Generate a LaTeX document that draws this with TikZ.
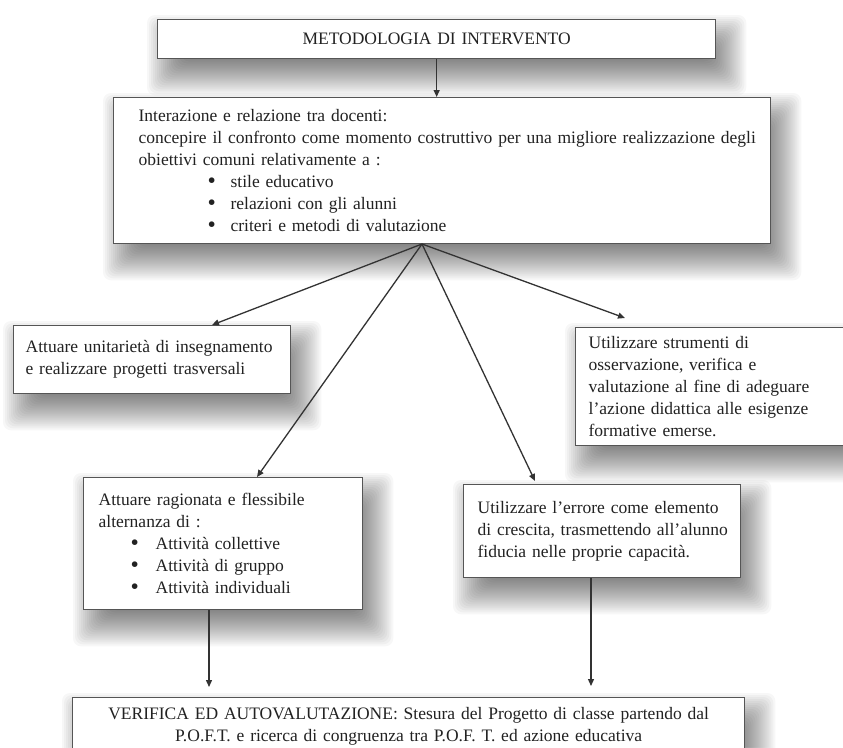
\documentclass[tikz,border=0pt]{standalone}
\usepackage{fontspec}
\setmainfont{Liberation Serif}
\usetikzlibrary{arrows.meta}
\pgfdeclarelayer{shadowlayer}
\pgfsetlayers{shadowlayer,main}
\definecolor{boxline}{HTML}{555555}
\definecolor{txt}{HTML}{222222}
\definecolor{arrowc}{HTML}{333333}
\newcommand\rowtxt[1]{\mbox{#1}}
\newcommand\bulrow[3]{\mbox{\hspace*{#1}\makebox[#2][l]{\smash{\raisebox{-1.2pt}{\scalebox{1.35}{\textbullet}}}}#3}}
\newcommand\softshadow[1]{%
  \begin{pgfonlayer}{shadowlayer}
    \foreach \e in {-16,-14,...,20}{%
      \fill[black,opacity=0.03,rounded corners=8pt]
        ([shift={(10-\e,16-\e)}]#1.north west) rectangle ([shift={(10+\e,16+\e)}]#1.south east);
    }
  \end{pgfonlayer}}
\begin{document}
\begin{tikzpicture}[x=1pt,y=-1pt,
  box/.style={draw=boxline,line width=1.3pt,fill=white,rectangle,anchor=north west,
    align=left,inner ysep=0pt,text=txt,font=\fontsize{17.5}{22}\selectfont},
  conn/.style={draw=arrowc,line width=1.3pt,-{Triangle[length=7pt,width=6pt]}}]
\begin{pgfonlayer}{shadowlayer}
  \fill[white] (0,0) rectangle (843,747);
\end{pgfonlayer}
\useasboundingbox (0,0) rectangle (843,747);

\node[box,inner xsep=0pt,text width=558pt,minimum height=39pt,align=center] (title) at (157,19)
  {METODOLOGIA DI INTERVENTO};

\node[box,inner xsep=25pt,text width=607pt,minimum height=146pt] (main) at (113,97)
  {\rowtxt{Interazione e relazione tra docenti:}\\
   \rowtxt{concepire il confronto come momento costruttivo per una migliore realizzazione degli}\\
   \rowtxt{obiettivi comuni relativamente a :}\\
   \bulrow{69pt}{23pt}{stile educativo}\\
   \bulrow{69pt}{23pt}{relazioni con gli alunni}\\
   \bulrow{69pt}{23pt}{criteri e metodi di valutazione}};

\node[box,inner xsep=12pt,text width=253pt,minimum height=68pt] (lb) at (13,325)
  {\rowtxt{Attuare unitarietà di insegnamento}\\
   \rowtxt{e realizzare progetti trasversali}};

\node[box,inner xsep=13pt,text width=262pt,minimum height=118pt] (rb) at (575,327)
  {\rowtxt{Utilizzare strumenti di}\\
   \rowtxt{osservazione, verifica e}\\
   \rowtxt{valutazione al fine di adeguare}\\
   \rowtxt{l’azione didattica alle esigenze}\\
   \rowtxt{formative emerse.}};

\node[box,inner xsep=15pt,text width=249pt,minimum height=132pt] (ml) at (83,477)
  {\rowtxt{Attuare ragionata e flessibile}\\
   \rowtxt{alternanza di :}\\
   \bulrow{32pt}{25pt}{Attività collettive}\\
   \bulrow{32pt}{25pt}{Attività di gruppo}\\
   \bulrow{32pt}{25pt}{Attività individuali}};

\node[box,inner xsep=14pt,text width=249pt,minimum height=93pt] (mr) at (463,484)
  {\rowtxt{Utilizzare l’errore come elemento}\\
   \rowtxt{di crescita, trasmettendo all’alunno}\\
   \rowtxt{fiducia nelle proprie capacità.}};

\node[box,inner xsep=0pt,text width=672pt,minimum height=58pt,align=center] (bot) at (72,697)
  {\rowtxt{VERIFICA ED AUTOVALUTAZIONE: Stesura del Progetto di classe partendo dal}\\
   \rowtxt{P.O.F.T. e ricerca di congruenza tra P.O.F. T. ed azione educativa}};

\softshadow{title}
\softshadow{main}
\softshadow{lb}
\softshadow{rb}
\softshadow{ml}
\softshadow{mr}
\softshadow{bot}

\coordinate (hub) at (422,244);
\coordinate (lt) at (212,325);
\coordinate (rt) at (625,318);
\coordinate (mlt) at (257,477);
\coordinate (mrt) at (535,481);
\coordinate (xa) at (209,0);
\coordinate (xb) at (591,0);

\draw[conn] (title.south) -- (title.south |- main.north);
\draw[conn] (hub) -- (lt);
\draw[conn] (hub) -- (rt);
\draw[conn] (hub) -- (mlt);
\draw[conn] (hub) -- (mrt);
\draw[conn,shorten >=10pt] (ml.south -| xa) -- (bot.north -| xa);
\draw[conn,shorten >=11pt] (mr.south -| xb) -- (bot.north -| xb);
\end{tikzpicture}
\end{document}
